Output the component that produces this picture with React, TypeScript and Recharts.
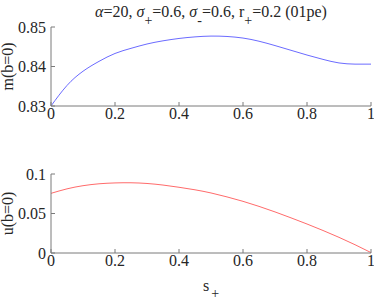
import React from 'react'
import { LineChart, Line, XAxis, YAxis, Label } from 'recharts'

const sPlus = [0, 0.05, 0.1, 0.15, 0.2, 0.25, 0.3, 0.35, 0.4, 0.45, 0.5, 0.55, 0.6, 0.65, 0.7, 0.75, 0.8, 0.85, 0.9, 0.95, 1]
const mValues = [0.83, 0.8352, 0.8388, 0.8413, 0.8433, 0.8446, 0.8457, 0.8465, 0.8471, 0.8475, 0.8477, 0.8476, 0.8472, 0.8464, 0.8453, 0.8441, 0.8429, 0.8418, 0.8409, 0.8406, 0.8406]
const uValues = [0.0755, 0.0812, 0.0852, 0.0876, 0.0887, 0.0889, 0.088, 0.086, 0.0832, 0.08, 0.076, 0.071, 0.0654, 0.059, 0.052, 0.0445, 0.0367, 0.0285, 0.0198, 0.0105, 0.0005]
const xTicks = [0, 0.2, 0.4, 0.6, 0.8, 1]
const mTicks = [0.83, 0.84, 0.85]
const uTicks = [0, 0.05, 0.1]

const FONT = '"Liberation Serif", "Times New Roman", Times, serif'
const AXIS = '#7a7a7a'
const TEXT = '#262626'

const topData = sPlus.map((s, i) => ({ s, m: mValues[i] }))
const bottomData = sPlus.map((s, i) => ({ s, u: uValues[i] }))

// recharts drops fontFamily from tick objects, so draw tick text by hand
const XTick = (p: any) => (
  <text x={p.x} y={p.y} dy={11} textAnchor="middle" fontSize={16} fontFamily={FONT} fill={TEXT}>
    {String(p.payload.value)}
  </text>
)
const YTick = (p: any) => (
  <text x={p.x} y={p.y} dy={5.5} textAnchor="end" fontSize={16} fontFamily={FONT} fill={TEXT}>
    {String(p.payload.value)}
  </text>
)

// rotated y label, matlab style
function yLabel(text: string) {
  return (props: any) => {
    const vb = props.viewBox || {}
    const cy = vb.y + vb.height / 2
    return (
      <text x={13} y={cy} transform={`rotate(-90, 13, ${cy})`} textAnchor="middle" fontSize={16} fontFamily={FONT} fill={TEXT}>
        {text}
      </text>
    )
  }
}

function xLabel(props: any) {
  const vb = props.viewBox || {}
  const cx = vb.x + vb.width / 2
  return (
    <text x={cx - 8} y={vb.y + 38} fontSize={16} fontFamily={FONT} fill={TEXT}>
      <tspan>s</tspan>
      <tspan dx={2} dy={7} fontSize={14}>+</tspan>
    </text>
  )
}

const sub = (c: string) => (
  <span style={{ position: 'relative', top: 8, fontSize: 14 }}>{c}</span>
)

export default function App() {
  return (
    <div style={{ position: 'absolute', left: 0, top: 0, width: 374, height: 302, background: '#fff', fontFamily: FONT }}>
      <div
        style={{
          position: 'absolute', left: 51, top: 3, width: 320, textAlign: 'center',
          fontSize: 16, lineHeight: '18px', color: TEXT, whiteSpace: 'nowrap',
        }}
      >
        <i>α</i>=20, <i>σ</i>{sub('+')}=0.6, <i>σ</i>{sub('-')}=0.6, r{sub('+')}=0.2 (01pe)
      </div>

      <div style={{ position: 'absolute', left: 0, top: 0 }}>
        <LineChart width={374} height={140} data={topData} margin={{ top: 27, right: 3, bottom: 0, left: 0 }}>
          <XAxis
            dataKey="s" type="number" domain={[0, 1]} ticks={xTicks} interval={0}
            height={34} tickSize={-4} tickMargin={6} tick={XTick}
            axisLine={{ stroke: AXIS }} tickLine={{ stroke: AXIS }}
          />
          <XAxis
            xAxisId="t" orientation="top" dataKey="s" type="number" domain={[0, 1]} ticks={xTicks}
            height={0} tickSize={-4} tick={false} axisLine={{ stroke: AXIS }} tickLine={{ stroke: AXIS }}
          />
          <YAxis
            type="number" domain={[0.83, 0.85]} ticks={mTicks} interval={0} width={51}
            tickSize={-4} tickMargin={9} tick={YTick}
            axisLine={{ stroke: AXIS }} tickLine={{ stroke: AXIS }}
          >
            <Label content={yLabel('m(b=0)')} />
          </YAxis>
          <YAxis
            yAxisId="r" orientation="right" type="number" domain={[0.83, 0.85]} ticks={mTicks} width={0}
            tickSize={-4} tick={false} axisLine={{ stroke: AXIS }} tickLine={{ stroke: AXIS }}
          />
          <Line type="natural" dataKey="m" stroke="#6b6bff" strokeWidth={1} dot={false} isAnimationActive={false} />
        </LineChart>
      </div>

      <div style={{ position: 'absolute', left: 0, top: 147 }}>
        <LineChart width={374} height={155} data={bottomData} margin={{ top: 27, right: 3, bottom: 0, left: 0 }}>
          <XAxis
            dataKey="s" type="number" domain={[0, 1]} ticks={xTicks} interval={0}
            height={49} tickSize={-4} tickMargin={6} tick={XTick}
            axisLine={{ stroke: AXIS }} tickLine={{ stroke: AXIS }}
          >
            <Label content={xLabel} />
          </XAxis>
          <XAxis
            xAxisId="t" orientation="top" dataKey="s" type="number" domain={[0, 1]} ticks={xTicks}
            height={0} tickSize={-4} tick={false} axisLine={{ stroke: AXIS }} tickLine={{ stroke: AXIS }}
          />
          <YAxis
            type="number" domain={[0, 0.1]} ticks={uTicks} interval={0} width={51}
            tickSize={-4} tickMargin={9} tick={YTick}
            axisLine={{ stroke: AXIS }} tickLine={{ stroke: AXIS }}
          >
            <Label content={yLabel('u(b=0)')} />
          </YAxis>
          <YAxis
            yAxisId="r" orientation="right" type="number" domain={[0, 0.1]} ticks={uTicks} width={0}
            tickSize={-4} tick={false} axisLine={{ stroke: AXIS }} tickLine={{ stroke: AXIS }}
          />
          <Line type="natural" dataKey="u" stroke="#ff6b6b" strokeWidth={1} dot={false} isAnimationActive={false} />
        </LineChart>
      </div>
    </div>
  )
}
